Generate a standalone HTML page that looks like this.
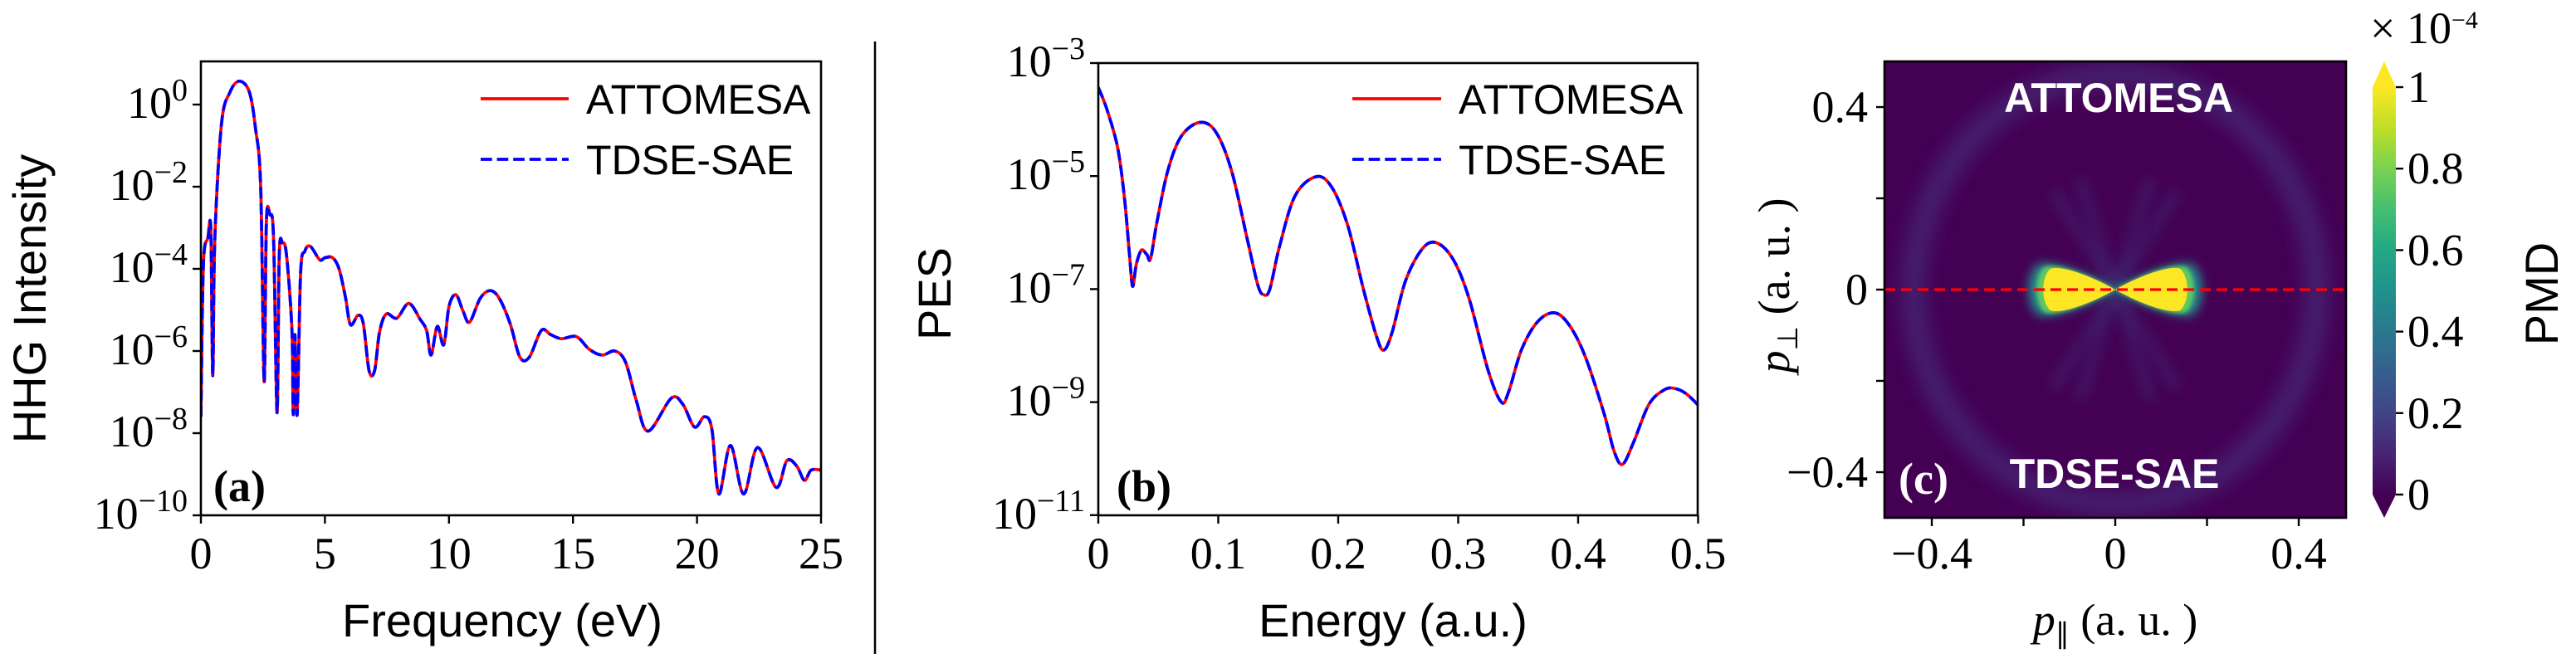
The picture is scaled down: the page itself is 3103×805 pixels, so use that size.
<!DOCTYPE html>
<html><head><meta charset="utf-8"><style>
html,body{margin:0;padding:0;background:#fff;}
svg{display:block;}
.tk{font-family:"Liberation Serif",serif;font-size:54px;fill:#000;}
.lb{font-family:"Liberation Sans",sans-serif;font-size:56px;fill:#000;}
.lg{font-family:"Liberation Sans",sans-serif;font-size:50px;fill:#000;}
</style></head><body>
<svg id="fig" width="3103" height="805" viewBox="0 0 3103 805" xmlns="http://www.w3.org/2000/svg">
<defs>
<linearGradient id="vir" x1="0" y1="1" x2="0" y2="0">
<stop offset="0" stop-color="#440154"/><stop offset="0.1" stop-color="#482475"/><stop offset="0.2" stop-color="#414487"/>
<stop offset="0.3" stop-color="#355f8d"/><stop offset="0.4" stop-color="#2a788e"/><stop offset="0.5" stop-color="#21918c"/>
<stop offset="0.6" stop-color="#22a884"/><stop offset="0.7" stop-color="#44bf70"/><stop offset="0.8" stop-color="#7ad151"/>
<stop offset="0.9" stop-color="#bddf26"/><stop offset="1" stop-color="#fde725"/></linearGradient>
<filter id="blur12" x="-50%" y="-50%" width="200%" height="200%"><feGaussianBlur stdDeviation="12"/></filter>
<filter id="blur8" x="-50%" y="-50%" width="200%" height="200%"><feGaussianBlur stdDeviation="8"/></filter>
<filter id="blur6" x="-50%" y="-50%" width="200%" height="200%"><feGaussianBlur stdDeviation="6"/></filter>
<filter id="blur3" x="-50%" y="-50%" width="200%" height="200%"><feGaussianBlur stdDeviation="2.5"/></filter>
<clipPath id="clipA"><rect x="242" y="74" width="747" height="547"/></clipPath>
<clipPath id="clipB"><rect x="1323" y="76" width="722" height="545"/></clipPath>
<clipPath id="clipC"><rect x="2270" y="74" width="556" height="550"/></clipPath>
</defs>
<g id="root"></g>
</svg>
<script>
// ---------- data ----------
const hhgFreq=[0,0.1,0.28,0.4,0.48,0.56,0.83,1.17,1.55,1.95,2.2,2.41,2.55,2.64,2.78,2.93,3.07,3.16,3.29,3.45,3.67,3.72,3.79,3.88,4.02,4.19,4.41,4.79,5.0,5.31,5.57,5.83,6.03,6.34,6.55,6.78,7.0,7.2,7.47,7.9,8.38,8.84,9.1,9.28,9.53,9.79,10.0,10.28,10.57,10.83,11.26,11.66,12.03,12.47,12.86,13.24,13.72,14.1,14.53,15.14,15.66,16.17,16.69,17.12,17.55,18.03,18.96,19.43,19.9,20.3,20.6,20.88,21.35,21.88,22.44,23.19,23.62,24.02,24.33,24.6,25];
const hhgLog=[-7.6,-3.9,-3.25,-3.05,-6.6,-3.3,-0.47,0.3,0.57,0.31,-0.57,-2.0,-6.75,-2.85,-2.68,-3.25,-7.5,-3.66,-3.37,-3.66,-5.5,-7.55,-5.6,-7.55,-4.1,-3.57,-3.45,-3.78,-3.73,-3.73,-4.0,-4.7,-5.36,-5.13,-5.34,-6.48,-6.48,-5.55,-5.1,-5.2,-4.84,-5.23,-5.5,-6.1,-5.4,-5.85,-4.92,-4.63,-5.03,-5.3,-4.72,-4.53,-4.72,-5.34,-6.15,-6.15,-5.5,-5.6,-5.7,-5.65,-5.96,-6.1,-6.0,-6.27,-7.2,-7.95,-7.15,-7.3,-7.85,-7.6,-7.9,-9.48,-8.3,-9.48,-8.35,-9.32,-8.67,-8.8,-9.15,-8.9,-8.9];
const pesE=[0,0.0075,0.0163,0.022,0.026,0.0286,0.0317,0.036,0.0405,0.0436,0.049,0.058,0.069,0.0846,0.098,0.111,0.124,0.133,0.138,0.143,0.151,0.164,0.1815,0.1947,0.208,0.221,0.232,0.238,0.245,0.256,0.27,0.282,0.296,0.309,0.325,0.336,0.342,0.353,0.3665,0.3806,0.393,0.406,0.4216,0.43,0.437,0.446,0.459,0.472,0.481,0.49,0.5];
const pesLog=[-3.43,-3.84,-4.52,-5.43,-6.4,-6.95,-6.56,-6.31,-6.39,-6.46,-5.8,-4.9,-4.3,-4.05,-4.22,-4.9,-6.1,-6.93,-7.1,-7.0,-6.25,-5.35,-5.01,-5.2,-5.88,-7.0,-7.84,-8.08,-7.76,-6.86,-6.29,-6.18,-6.48,-7.16,-8.44,-9.0,-8.82,-8.06,-7.57,-7.42,-7.65,-8.2,-9.2,-9.87,-10.1,-9.72,-9.04,-8.78,-8.76,-8.85,-9.05];
const hhgXTicks=[0,5,10,15,20,25];
const hhgYTicks=[0,-2,-4,-6,-8,-10];
const pesXTicks=[0,0.1,0.2,0.3,0.4,0.5];
const pesYTicks=[-3,-5,-7,-9,-11];
const pmdTicks=[-0.4,-0.2,0,0.2,0.4];
const pmdTickLabels=["\u22120.4","","0","","0.4"];
const cbTicks=[0,0.2,0.4,0.6,0.8,1];
const cbTickLabels=["0","0.2","0.4","0.6","0.8","1"];
const ringRadius=[0.44,0.47];   // px, py of faint ring (a.u.)
const lobeExtent=[0.15,0.05];   // lobe length, half-height (a.u.)

// ---------- scales ----------
const xA=f=>242+f*29.88, yA=l=>126-l*49.5;
const xB=e=>1323+e*1445, yB=l=>76+(-3-l)*68.1;
const xC=p=>2548+p*552.5, yC=p=>349-p*550;
const yCb=v=>596-v*491;

const NS="http://www.w3.org/2000/svg";
const root=document.getElementById('root');
function mk(tag,attrs,parent){const e=document.createElementNS(NS,tag);for(const k in attrs)e.setAttribute(k,attrs[k]);(parent||root).appendChild(e);return e;}
function smooth(xs,ys){
  let d=`M${xs[0].toFixed(1)},${ys[0].toFixed(1)}`;
  for(let i=0;i<xs.length-1;i++){
    const x0=xs[Math.max(i-1,0)],y0=ys[Math.max(i-1,0)],x1=xs[i],y1=ys[i],x2=xs[i+1],y2=ys[i+1],x3=xs[Math.min(i+2,xs.length-1)],y3=ys[Math.min(i+2,xs.length-1)];
    const t=6;
    d+=` C${(x1+(x2-x0)/t).toFixed(1)},${(y1+(y2-y0)/t).toFixed(1)} ${(x2-(x3-x1)/t).toFixed(1)},${(y2-(y3-y1)/t).toFixed(1)} ${x2.toFixed(1)},${y2.toFixed(1)}`;
  }
  return d;
}
function txt(x,y,s,cls,attrs,parent){const e=mk('text',Object.assign({x:x,y:y,class:cls},attrs||{}),parent);e.textContent=s;return e;}
function sup(x,y,base,exp,parent){
  const e=mk('text',{x:x,y:y,class:'tk','text-anchor':'end'},parent);
  e.appendChild(document.createTextNode(base));
  const t=document.createElementNS(NS,'tspan');t.setAttribute('font-size','38');t.setAttribute('dy','-21');t.textContent=exp;e.appendChild(t);
  return e;
}

// ---------- panel a ----------
const gA=mk('g',{});


const ax=hhgFreq.map(xA), ay=hhgLog.map(yA);
const dA=smooth(ax,ay);
const redA=mk('path',{d:dA,fill:'none',stroke:'#ff0000','stroke-width':3.7,'clip-path':'url(#clipA)'},gA);


const bluA=mk('path',{d:dA,fill:'none',stroke:'#0000ff','stroke-width':3.7,'stroke-dasharray':'13.7 5.9','clip-path':'url(#clipA)'},gA);


const frA=mk('rect',{x:242,y:74,width:747,height:547,fill:'none',stroke:'#000','stroke-width':2.6},gA);


hhgXTicks.forEach(v=>{const x=xA(v);mk('line',{x1:x,x2:x,y1:621,y2:631,stroke:'#000','stroke-width':2.4},gA);
  const t=txt(x,685,String(v),'tk',{'text-anchor':'middle'},gA);});
hhgYTicks.forEach(v=>{const y=yA(v);mk('line',{x1:232,x2:242,y1:y,y2:y,stroke:'#000','stroke-width':2.4},gA);
  const t=sup(226,y+16,'10',v===0?'0':'\u2212'+(-v),gA);});
const xlA=txt(605,767,'Frequency (eV)','lb',{'text-anchor':'middle'},gA);

const ylA=txt(0,0,'HHG Intensity','lb',{'text-anchor':'middle',transform:'translate(55,360) rotate(-90)'},gA);

const laA=txt(257,604,'(a)','tk',{'font-weight':'bold','font-size':'66'},gA);

function legend(g,x1,x2,tx){
  const l1=mk('line',{x1:x1,x2:x2,y1:119,y2:119,stroke:'#ff0000','stroke-width':3.7},g);
  
  const t1=txt(tx,137,'ATTOMESA','lg',{},g);
  const l2=mk('line',{x1:x1,x2:x2,y1:192,y2:192,stroke:'#0000ff','stroke-width':3.7,'stroke-dasharray':'13.7 5.9'},g);
  
  const t2=txt(tx,210,'TDSE-SAE','lg',{},g);
}
legend(gA,579,685,706);

// divider
const dv=mk('line',{x1:1054,x2:1054,y1:50,y2:788,stroke:'#000','stroke-width':2.5});


// ---------- panel b ----------
const gB=mk('g',{});


const dB=smooth(pesE.map(xB),pesLog.map(yB));
const redB=mk('path',{d:dB,fill:'none',stroke:'#ff0000','stroke-width':3.7,'clip-path':'url(#clipB)'},gB);

const bluB=mk('path',{d:dB,fill:'none',stroke:'#0000ff','stroke-width':3.7,'stroke-dasharray':'13.7 5.9','clip-path':'url(#clipB)'},gB);

const frB=mk('rect',{x:1323,y:76,width:722,height:545,fill:'none',stroke:'#000','stroke-width':2.6},gB);

pesXTicks.forEach(v=>{const x=xB(v);mk('line',{x1:x,x2:x,y1:621,y2:631,stroke:'#000','stroke-width':2.4},gB);
  const t=txt(x,685,String(v),'tk',{'text-anchor':'middle'},gB);});
pesYTicks.forEach(v=>{const y=yB(v);mk('line',{x1:1313,x2:1323,y1:y,y2:y,stroke:'#000','stroke-width':2.4},gB);
  const t=sup(1307,y+16,'10','\u2212'+(-v),gB);});
const xlB=txt(1678,767,'Energy (a.u.)','lb',{'text-anchor':'middle'},gB);

const ylB=txt(0,0,'PES','lb',{'text-anchor':'middle',transform:'translate(1145,354) rotate(-90)'},gB);

const laB=txt(1345,604,'(b)','tk',{'font-weight':'bold','font-size':'66'},gB);

legend(gB,1629,1736,1757);

// ---------- panel c ----------
const gC=mk('g',{'clip-path':'url(#clipC)'});


mk('rect',{x:2270,y:74,width:556,height:550,fill:'#440154'},gC);
const cx=xC(0),cy=yC(0);
const ring=mk('ellipse',{cx:cx,cy:cy,rx:xC(ringRadius[0])-cx,ry:cy-yC(ringRadius[1]),fill:'none',stroke:'#46337f','stroke-width':26,filter:'url(#blur12)',opacity:0.7},gC);

// rays
[[-58],[-72],[58],[72],[-108],[-122],[108],[122]].forEach(a=>{const r=a[0]*Math.PI/180;
  mk('line',{x1:cx,y1:cy,x2:cx+140*Math.cos(r),y2:cy-140*Math.sin(r),stroke:'#3b528b','stroke-width':8,filter:'url(#blur8)',opacity:0.45},gC);});
const L=xC(lobeExtent[0])-cx, H=cy-yC(lobeExtent[1]);
function lobe(s,scale){return `M${cx},${cy} C${cx+s*L*0.35*scale},${cy-H*0.6*scale} ${cx+s*L*0.8*scale},${cy-H*1.1*scale} ${cx+s*L*0.95*scale},${cy-H*0.9*scale} C${cx+s*L*1.08*scale},${cy-H*0.5*scale} ${cx+s*L*1.08*scale},${cy+H*0.5*scale} ${cx+s*L*0.95*scale},${cy+H*0.9*scale} C${cx+s*L*0.8*scale},${cy+H*1.1*scale} ${cx+s*L*0.35*scale},${cy+H*0.6*scale} ${cx},${cy} Z`;}
[-1,1].forEach(s=>{
  mk('path',{d:lobe(s,1.2),fill:'#21918c',filter:'url(#blur6)'},gC);
  mk('path',{d:lobe(s,1.09),fill:'#5ec962',filter:'url(#blur3)'},gC);
  const lb=mk('path',{d:lobe(s,1),fill:'#fde725'},gC);
  
});
const zl=mk('line',{x1:2270,x2:2826,y1:cy,y2:cy,stroke:'#ff0000','stroke-width':3.2,'stroke-dasharray':'13 7'},gC);

const tA=txt(2552,135,'ATTOMESA','lg',{'text-anchor':'middle','font-weight':'bold',style:'fill:#fff'},gC);

const tT=txt(2547,588,'TDSE-SAE','lg',{'text-anchor':'middle','font-weight':'bold',style:'fill:#fff'},gC);

const lc=txt(2287,595,'(c)','tk',{'font-weight':'bold','font-size':'64',style:'fill:#fff'},gC);

const frC=mk('rect',{x:2270,y:74,width:556,height:550,fill:'none',stroke:'#000','stroke-width':2.6});

pmdTicks.forEach((v,i)=>{
  const x=xC(v),y=yC(v);
  mk('line',{x1:x,x2:x,y1:624,y2:634,stroke:'#000','stroke-width':2.4});
  mk('line',{x1:2260,x2:2270,y1:y,y2:y,stroke:'#000','stroke-width':2.4});
  if(pmdTickLabels[i]){
    const a=txt(x,685,pmdTickLabels[i],'tk',{'text-anchor':'middle'});
    const b=txt(2250,y+18,pmdTickLabels[i],'tk',{'text-anchor':'end'});
  }
});
const pxl=mk('text',{x:2548,y:765,class:'tk','text-anchor':'middle'});
pxl.innerHTML='<tspan font-style="italic">p</tspan><tspan font-size="34" dy="10">∥</tspan><tspan dy="-10"> (a. u. )</tspan>';

const pyl=mk('text',{x:0,y:0,class:'tk','text-anchor':'middle',transform:'translate(2155,344) rotate(-90)'});
pyl.innerHTML='<tspan font-style="italic">p</tspan><tspan font-size="34" dy="10">⊥</tspan><tspan dy="-10"> (a. u. )</tspan>';


// colorbar
const gCb=mk('g',{});


mk('rect',{x:2858,y:yCb(1),width:28,height:yCb(0)-yCb(1),fill:'url(#vir)'},gCb);
mk('polygon',{points:`2858,${yCb(1)} 2872,74 2886,${yCb(1)}`,fill:'#fde725'},gCb);
mk('polygon',{points:`2858,${yCb(0)} 2872,624 2886,${yCb(0)}`,fill:'#440154'},gCb);
cbTicks.forEach((v,i)=>{const y=yCb(v);mk('line',{x1:2886,x2:2895,y1:y,y2:y,stroke:'#000','stroke-width':2.4},gCb);
  const t=txt(2900,y+18,cbTickLabels[i],'tk',{},gCb);});
const mul=mk('text',{x:2855,y:52,class:'tk','font-size':'44'});
mul.innerHTML='× 10<tspan font-size="30" dy="-18">−4</tspan>';

const pmd=txt(0,0,'PMD','lb',{'text-anchor':'middle',transform:'translate(3081,354) rotate(-90)'});

</script>
</body></html>
